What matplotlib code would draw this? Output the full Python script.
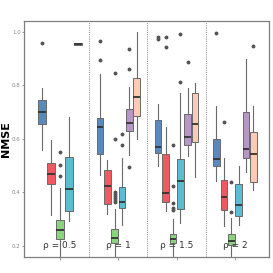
import numpy as np
import matplotlib
matplotlib.use("Agg")
import matplotlib.pyplot as plt

groups = ["\u03c1 = 0.5", "\u03c1 = 1", "\u03c1 = 1.5", "\u03c1 = 2"]
series = ["M1", "M2", "M3", "M4", "M5", "M6"]
colors = ["#5b88bd", "#ef5a60", "#8bd37f", "#5bbdd2", "#b996c8", "#ffcab4"]

# each entry: [whisker_low, q1, median, q3, whisker_high] per group (None = absent)
m1_stats = [[0.559, 0.655, 0.700, 0.746, 0.792], [0.465, 0.544, 0.646, 0.679, 0.842],
            [0.499, 0.547, 0.571, 0.671, 0.731], [0.443, 0.500, 0.524, 0.599, 0.723]]
m2_stats = [[0.316, 0.433, 0.470, 0.509, 0.595], [0.320, 0.356, 0.424, 0.484, 0.520],
            [0.332, 0.364, 0.397, 0.543, 0.646], [0.274, 0.336, 0.384, 0.446, 0.530]]
m3_stats = [[0.150, 0.225, 0.260, 0.297, 0.415], [0.150, 0.210, 0.231, 0.262, 0.337],
            [0.150, 0.210, 0.226, 0.244, 0.301], [0.150, 0.204, 0.219, 0.244, 0.304]]
m4_stats = [[0.293, 0.332, 0.413, 0.534, 0.683], [0.279, 0.341, 0.366, 0.422, 0.528],
            [0.287, 0.337, 0.444, 0.525, 0.773], [0.279, 0.313, 0.353, 0.433, 0.498]]
m5_stats = [[0.952, 0.953, 0.955, 0.957, 0.958], [0.540, 0.630, 0.661, 0.712, 0.796],
            [0.536, 0.578, 0.606, 0.692, 0.792], [0.478, 0.528, 0.563, 0.700, 0.898]]
m6_stats = [None, [0.599, 0.687, 0.758, 0.827, 1.000],
            [0.457, 0.590, 0.656, 0.771, 0.811], [0.409, 0.438, 0.543, 0.627, 0.723]]

m1_out = [[0.958], [0.895, 0.966], [0.973, 0.980], [0.995]]
m2_out = [[], [], [0.945, 0.983], [0.665]]
m3_out = [[0.462, 0.503, 0.550], [0.366, 0.373, 0.380, 0.387, 0.394, 0.401, 0.599, 0.848],
          [0.335, 0.341, 0.360, 0.424, 0.578], [0.328, 0.438]]
m4_out = [[], [0.578, 0.618], [0.814, 0.993], []]
m5_out = [[], [0.497, 0.861, 0.936], [0.889], []]
m6_out = [[], [], [], [0.949]]

all_stats = [m1_stats, m2_stats, m3_stats, m4_stats, m5_stats, m6_stats]
all_out = [m1_out, m2_out, m3_out, m4_out, m5_out, m6_out]

fig = plt.figure(figsize=(2.73, 2.73), dpi=100)
ax = fig.add_axes([0.088, 0.059, 0.897, 0.864])

dodge = 0.76
for g in range(len(groups)):
    present = [s for s in range(len(series)) if all_stats[s][g] is not None]
    n = len(present)
    slot = dodge / n
    for k, s in enumerate(present):
        wl, q1, med, q3, wh = all_stats[s][g]
        pos = g + (k - (n - 1) / 2) * slot
        st = dict(whislo=wl, q1=q1, med=med, q3=q3, whishi=wh, fliers=all_out[s][g])
        ax.bxp([st], positions=[pos], widths=slot * 0.9, patch_artist=True,
               showcaps=False,
               boxprops=dict(facecolor=colors[s], edgecolor="#6a6a6a", linewidth=0.7),
               medianprops=dict(color="#333333", linewidth=1.3),
               whiskerprops=dict(color="#6a6a6a", linewidth=0.8),
               flierprops=dict(marker="o", markersize=1.8, markerfacecolor="#555555",
                               markeredgecolor="#555555", linestyle="none"),
               zorder=2)
    ax.text(g, 0.2, groups[g], ha="center", va="center", fontsize=6.5,
            color="#333333", zorder=3)

for xv in [0.5, 1.5, 2.5]:
    ax.axvline(xv, color="#999999", linestyle=(0, (1, 1)), linewidth=0.8, zorder=1)

ax.set_xlim(-0.617, 3.583)
ax.set_ylim(0.159, 1.041)
ax.set_xticks(range(len(groups)))
ax.set_xticklabels([""] * len(groups))
ax.set_yticks([0.2, 0.4, 0.6, 0.8, 1.0])
ax.set_yticklabels(["0.2", "0.4", "0.6", "0.8", "1.0"])
ax.tick_params(axis="y", labelsize=4, labelcolor="#888888", color="#888888",
               length=1.5, width=0.6, pad=0.8)
ax.tick_params(axis="x", color="#888888", length=2, width=0.6)
for sp in ax.spines.values():
    sp.set_color("#7f7f7f")
    sp.set_linewidth(0.9)
fig.text(0.023, 0.49, "NMSE", rotation=90, ha="center", va="center",
         fontsize=8, fontweight="bold", color="black")

fig.savefig("out.png", dpi=100)
